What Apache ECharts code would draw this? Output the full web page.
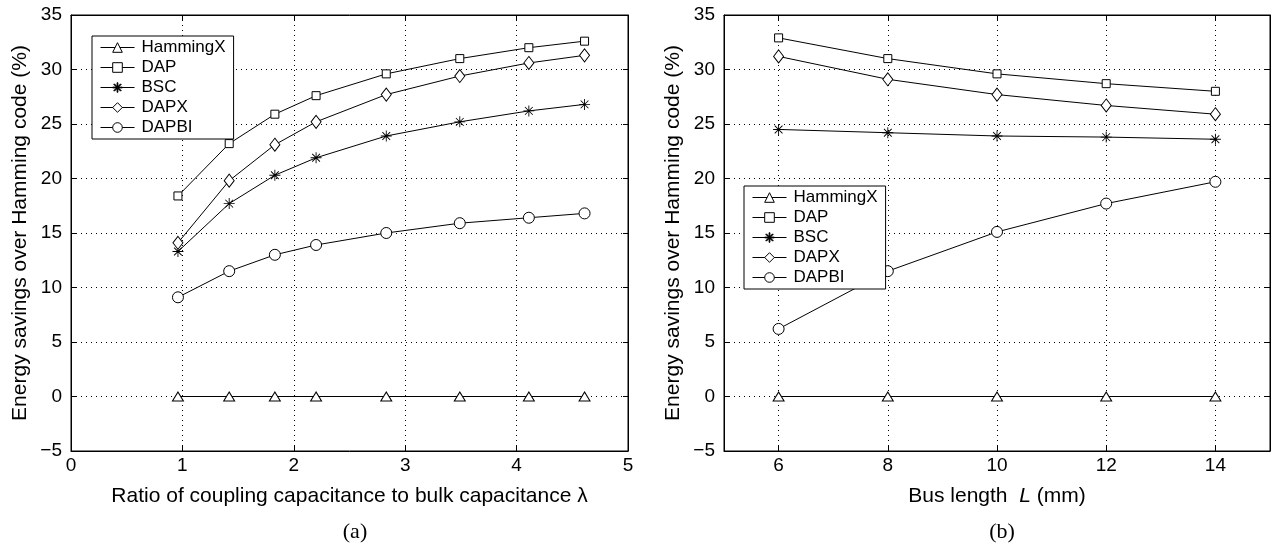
<!DOCTYPE html>
<html>
<head>
<meta charset="utf-8">
<script src="https://cdn.jsdelivr.net/npm/echarts@6/dist/echarts.min.js"></script>
<style>
  html, body { margin: 0; padding: 0; background: #fff; }
  #main { width: 1274px; height: 548px; }
</style>
</head>
<body>
<div id="main"></div>
<script>
// panel (a): lambda on x
var lambdaX = [0.96, 1.42, 1.83, 2.2, 2.83, 3.49, 4.11, 4.61];
var hammingA = [0, 0, 0, 0, 0, 0, 0, 0];
var dapA = [18.4, 23.2, 25.9, 27.6, 29.6, 31.0, 32.0, 32.6];
var bscA = [13.3, 17.7, 20.3, 21.9, 23.9, 25.2, 26.2, 26.8];
var dapxA = [14.1, 19.8, 23.1, 25.2, 27.7, 29.4, 30.6, 31.3];
var dapbiA = [9.1, 11.5, 13.0, 13.9, 15.0, 15.9, 16.4, 16.8];

// panel (b): bus length on x
var busLength = [6, 8, 10, 12, 14];
var hammingB = [0, 0, 0, 0, 0];
var dapB = [32.9, 31.0, 29.6, 28.7, 28.0];
var bscB = [24.5, 24.2, 23.9, 23.8, 23.6];
var dapxB = [31.2, 29.1, 27.7, 26.7, 25.9];
var dapbiB = [6.2, 11.5, 15.1, 17.7, 19.7];

var busTicks = [6, 8, 10, 12, 14];
var names = ['HammingX', 'DAP', 'BSC', 'DAPX', 'DAPBI'];

var FONT = '"Liberation Sans", Arial, sans-serif';
var ASTERISK = 'path://M9.2 0L10.8 0L10.8 20L9.2 20Z M0 9.2L20 9.2L20 10.8L0 10.8Z ' +
    'M2.4 3.5L3.5 2.4L17.6 16.5L16.5 17.6Z M16.5 2.4L17.6 3.5L3.5 17.6L2.4 16.5Z';

var marks = {
    HammingX: { symbol: 'triangle', size: [11, 9] },
    DAP: { symbol: 'rect', size: 8 },
    BSC: { symbol: ASTERISK, size: 11 },
    DAPX: { symbol: 'diamond', size: [10, 13] },
    DAPBI: { symbol: 'circle', size: 11 }
};

function zip(xs, ys) {
    var out = [];
    for (var i = 0; i < xs.length; i++) {
        out.push([xs[i], ys[i]]);
    }
    return out;
}

function makeSeries(name, xs, ys, idx) {
    var m = marks[name];
    var filled = name == 'BSC';
    return {
        name: name,
        type: 'line',
        xAxisIndex: idx,
        yAxisIndex: idx,
        data: zip(xs, ys),
        symbol: m.symbol,
        symbolSize: m.size,
        showAllSymbol: true,
        animation: false,
        lineStyle: { color: '#000', width: 1 },
        itemStyle: {
            color: filled ? '#000' : '#fff',
            borderColor: '#000',
            borderWidth: filled ? 0 : 1
        },
        z: 3
    };
}

function mainX(gridIndex, min, max, opts) {
    var ax = {
        type: 'value',
        gridIndex: gridIndex,
        min: min,
        max: max,
        position: 'bottom',
        axisLine: { onZero: false, lineStyle: { color: '#000', width: 1 } },
        axisTick: { inside: true, length: 5, lineStyle: { color: '#000' } },
        axisLabel: { color: '#000', fontSize: 19, fontFamily: FONT, margin: 5 },
        splitLine: { show: true, lineStyle: { color: '#000', type: [1, 4], width: 1 } },
        nameLocation: 'middle',
        nameGap: 35,
        nameTextStyle: {
            color: '#000', fontSize: 21, fontFamily: FONT,
            rich: { it: { fontStyle: 'italic', fontSize: 21, fontFamily: FONT, color: '#000' } }
        }
    };
    for (var k in opts) ax[k] = opts[k];
    return ax;
}

function topX(gridIndex, min, max, opts) {
    var ax = {
        type: 'value',
        gridIndex: gridIndex,
        min: min,
        max: max,
        position: 'top',
        axisLine: { onZero: false, lineStyle: { color: '#000', width: 1 } },
        axisTick: { inside: true, length: 5, lineStyle: { color: '#000' } },
        axisLabel: { show: false },
        splitLine: { show: false }
    };
    for (var k in opts) ax[k] = opts[k];
    return ax;
}

function mainY(gridIndex) {
    return {
        type: 'value',
        gridIndex: gridIndex,
        min: -5,
        max: 35,
        interval: 5,
        position: 'left',
        name: 'Energy savings over Hamming code (%)',
        nameLocation: 'middle',
        nameGap: 40,
        nameTextStyle: { color: '#000', fontSize: 21, fontFamily: FONT },
        axisLine: { onZero: false, lineStyle: { color: '#000', width: 1 } },
        axisTick: { inside: true, length: 5, lineStyle: { color: '#000' } },
        axisLabel: {
            color: '#000', fontSize: 19, fontFamily: FONT, margin: 9,
            formatter: function(v) { return String(v).replace('-', '\u2212'); }
        },
        splitLine: { show: true, lineStyle: { color: '#000', type: [1, 4], width: 1 } }
    };
}

function rightY(gridIndex) {
    return {
        type: 'value',
        gridIndex: gridIndex,
        min: -5,
        max: 35,
        interval: 5,
        position: 'right',
        axisLine: { onZero: false, lineStyle: { color: '#000', width: 1 } },
        axisTick: { inside: true, length: 5, lineStyle: { color: '#000' } },
        axisLabel: { show: false },
        splitLine: { show: false }
    };
}

function makeLegend(left, top) {
    return {
        orient: 'vertical',
        left: left,
        top: top,
        data: names,
        selectedMode: false,
        backgroundColor: '#fff',
        borderColor: '#000',
        borderWidth: 1,
        borderRadius: 0,
        padding: [3, 8, 3, 8],
        itemWidth: 34,
        itemHeight: 12,
        itemGap: 3,
        lineStyle: { width: 1, color: '#000' },
        itemStyle: { borderWidth: 1 },
        textStyle: { color: '#000', fontSize: 17, fontFamily: FONT, padding: [0, 0, 0, 2] }
    };
}

var series = [];
var dataA = [hammingA, dapA, bscA, dapxA, dapbiA];
var dataB = [hammingB, dapB, bscB, dapxB, dapbiB];
for (var i = 0; i < names.length; i++) {
    series.push(makeSeries(names[i], lambdaX, dataA[i], 0));
}
for (i = 0; i < names.length; i++) {
    series.push(makeSeries(names[i], busLength, dataB[i], 1));
}

var chart = echarts.init(document.getElementById('main'));
chart.setOption({
    backgroundColor: '#fff',
    animation: false,
    title: [
        { text: '(a)', left: 350, top: 516, textAlign: 'center',
          textStyle: { fontFamily: '"Liberation Serif", "DejaVu Serif", serif', fontSize: 22, fontWeight: 'normal', color: '#000' } },
        { text: '(b)', left: 997, top: 516, textAlign: 'center',
          textStyle: { fontFamily: '"Liberation Serif", "DejaVu Serif", serif', fontSize: 22, fontWeight: 'normal', color: '#000' } }
    ],
    legend: [makeLegend(92, 36), makeLegend(744, 186)],
    grid: [
        { left: 71, top: 15, width: 557, height: 436, show: true, borderColor: '#000', borderWidth: 1 },
        { left: 724, top: 15, width: 546, height: 436, show: true, borderColor: '#000', borderWidth: 1 }
    ],
    xAxis: [
        mainX(0, 0, 5, { interval: 1, name: 'Ratio of coupling capacitance to bulk capacitance \u03bb' }),
        mainX(1, 5, 15, {
            name: 'Bus length  {it|L} (mm)',
            axisTick: { inside: true, length: 5, lineStyle: { color: '#000' }, customValues: busTicks },
            axisLabel: { color: '#000', fontSize: 19, fontFamily: FONT, margin: 5, customValues: busTicks }
        }),
        topX(0, 0, 5, { interval: 1 }),
        topX(1, 5, 15, {
            axisTick: { inside: true, length: 5, lineStyle: { color: '#000' }, customValues: busTicks }
        })
    ],
    yAxis: [mainY(0), mainY(1), rightY(0), rightY(1)],
    series: series
});
</script>
</body>
</html>
